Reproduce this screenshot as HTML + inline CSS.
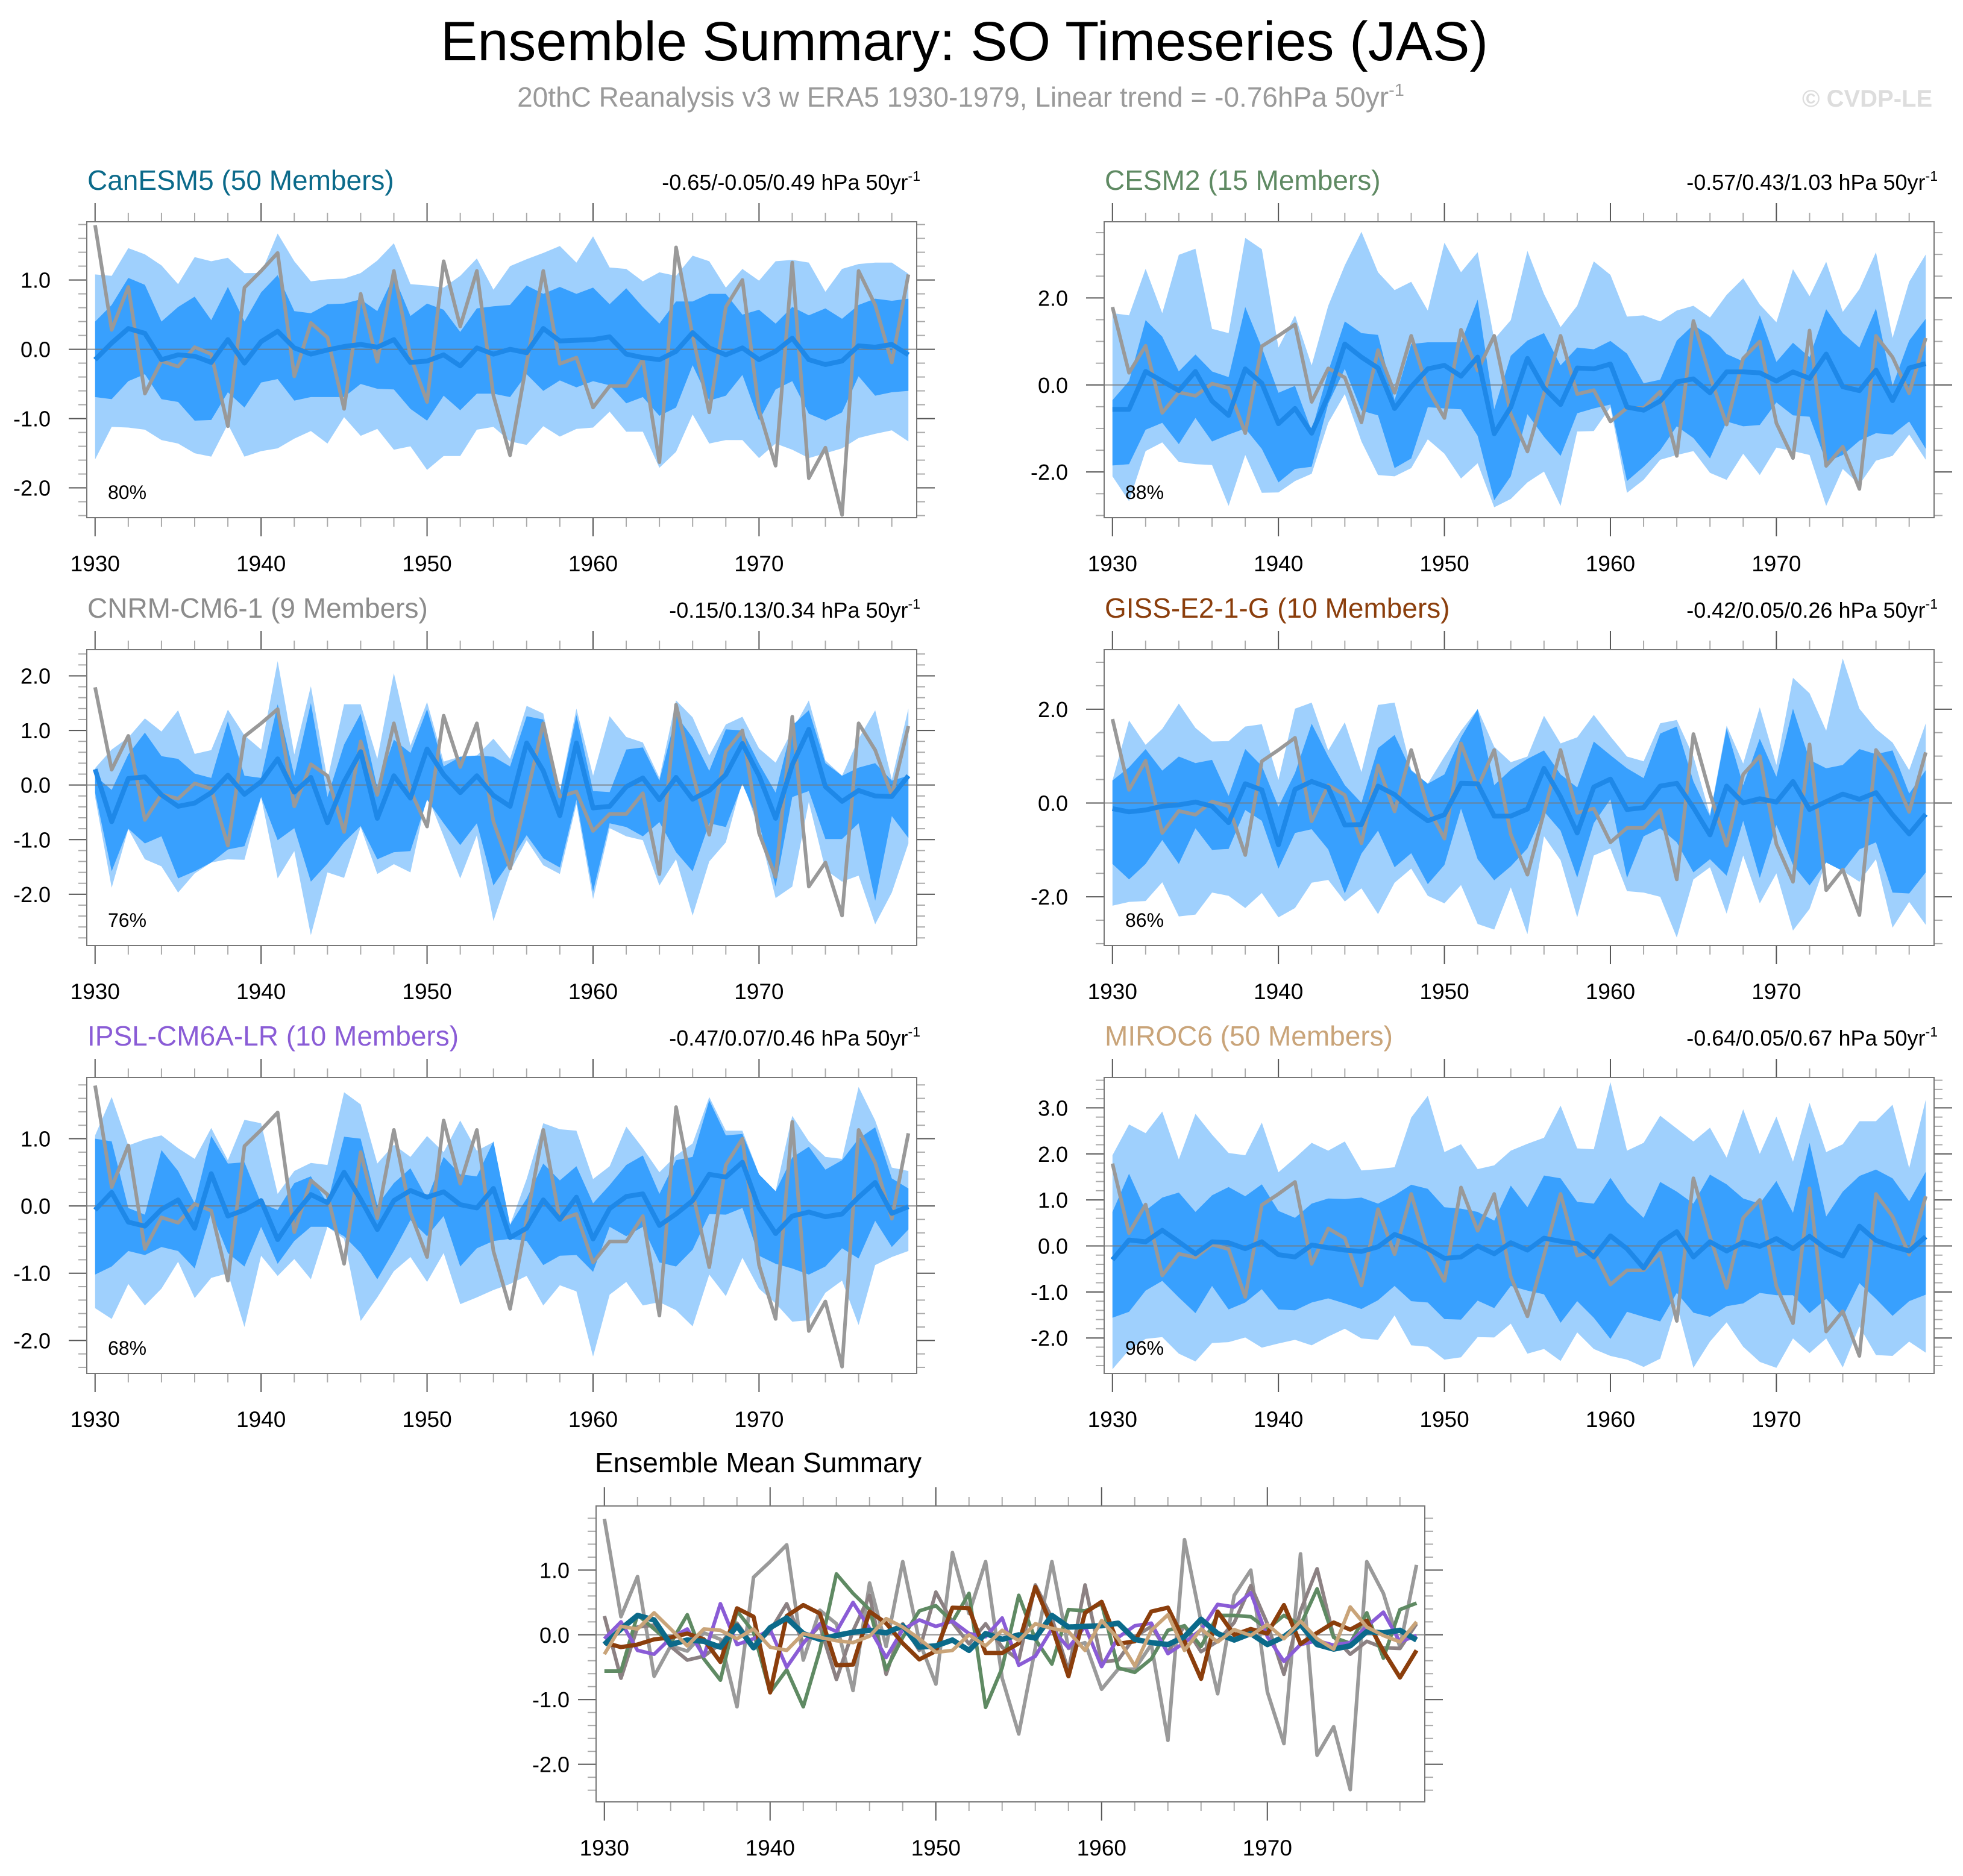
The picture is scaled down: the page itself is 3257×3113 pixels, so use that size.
<!DOCTYPE html>
<html><head><meta charset="utf-8"><title>Ensemble Summary: SO Timeseries (JAS)</title>
<style>html,body{margin:0;padding:0;background:#fff}svg{display:block;font-family:"Liberation Sans",sans-serif}</style>
</head><body>
<svg id="chart" xmlns="http://www.w3.org/2000/svg" width="3257" height="3113" viewBox="0 0 3257 3113">
<text x="1600" y="100" font-size="92" text-anchor="middle" fill="#000">Ensemble Summary: SO Timeseries (JAS)</text>
<text x="1594" y="177" font-size="46" text-anchor="middle" fill="#9a9a9a">20thC Reanalysis v3 w ERA5 1930-1979, Linear trend = -0.76hPa 50yr<tspan font-size="29" dy="-18">-1</tspan></text>
<text x="2990" y="177" font-size="40" font-weight="bold" fill="#dddddd">© CVDP-LE</text>
</svg>
<script>
const years = [1930,1931,1932,1933,1934,1935,1936,1937,1938,1939,1940,1941,1942,1943,1944,1945,1946,1947,1948,1949,1950,1951,1952,1953,1954,1955,1956,1957,1958,1959,1960,1961,1962,1963,1964,1965,1966,1967,1968,1969,1970,1971,1972,1973,1974,1975,1976,1977,1978,1979];
const obs = [1.79,0.28,0.90,-0.64,-0.17,-0.25,0.03,-0.07,-1.11,0.89,1.13,1.39,-0.39,0.38,0.17,-0.86,0.80,-0.18,1.13,-0.10,-0.76,1.27,0.33,1.13,-0.67,-1.53,-0.20,1.13,-0.21,-0.12,-0.84,-0.53,-0.53,-0.15,-1.63,1.47,0.20,-0.91,0.61,1.00,-0.88,-1.68,1.25,-1.86,-1.42,-2.39,1.13,0.64,-0.19,1.08];
const modelNames = ["CanESM5 (50 Members)","CESM2 (15 Members)","CNRM-CM6-1 (9 Members)","GISS-E2-1-G (10 Members)","IPSL-CM6A-LR (10 Members)","MIROC6 (50 Members)"];
const trendLabels = ["-0.65/-0.05/0.49 hPa 50yr","-0.57/0.43/1.03 hPa 50yr","-0.15/0.13/0.34 hPa 50yr","-0.42/0.05/0.26 hPa 50yr","-0.47/0.07/0.46 hPa 50yr","-0.64/0.05/0.67 hPa 50yr"];
const pctLabels = ["80%","88%","76%","86%","68%","96%"];
const yTickLabels = [["-2.0","-1.0","0.0","1.0"],["-2.0","0.0","2.0"],["-2.0","-1.0","0.0","1.0","2.0"],["-2.0","0.0","2.0"],["-2.0","-1.0","0.0","1.0"],["-2.0","-1.0","0.0","1.0","2.0","3.0"]];
const bottomYTickLabels = ["-2.0","-1.0","0.0","1.0"];
const xTickLabels = ["1930","1940","1950","1960","1970"];

const m1=[-0.15,0.09,0.30,0.23,-0.15,-0.08,-0.10,-0.19,0.14,-0.20,0.11,0.26,0.02,-0.07,-0.01,0.04,0.07,0.03,0.14,-0.19,-0.17,-0.08,-0.24,0.02,-0.07,0.00,-0.05,0.30,0.12,0.13,0.14,0.18,-0.07,-0.12,-0.15,-0.03,0.24,0.02,-0.08,0.02,-0.15,-0.03,0.16,-0.15,-0.22,-0.17,0.05,0.03,0.07,-0.08];
const ou1=[1.08,1.06,1.46,1.37,1.21,0.94,1.33,1.27,1.32,1.10,1.10,1.67,1.27,0.98,1.01,1.02,1.10,1.28,1.53,0.94,0.92,0.89,1.06,1.31,0.86,1.20,1.30,1.39,1.49,1.25,1.63,1.18,1.16,0.98,1.11,1.06,1.35,1.27,0.89,1.16,0.99,1.27,1.29,1.25,0.83,1.16,1.23,1.25,1.25,1.09];
const ol1=[-1.59,-1.12,-1.13,-1.16,-1.31,-1.36,-1.50,-1.55,-1.08,-1.55,-1.47,-1.43,-1.29,-1.18,-1.36,-0.98,-1.25,-1.15,-1.45,-1.40,-1.74,-1.54,-1.54,-1.16,-1.12,-1.33,-1.38,-1.11,-1.26,-1.15,-1.13,-0.90,-1.19,-1.19,-1.71,-1.48,-0.94,-1.36,-1.31,-1.31,-1.57,-1.36,-1.45,-1.57,-1.50,-1.43,-1.28,-1.22,-1.17,-1.33];
const iu1=[0.40,0.64,1.03,0.93,0.40,0.61,0.76,0.42,0.90,0.40,0.82,1.07,0.55,0.52,0.65,0.66,0.72,0.55,1.06,0.48,0.66,0.57,0.25,0.59,0.62,0.64,0.92,0.80,0.90,0.80,0.89,0.65,0.88,0.61,0.37,0.69,0.69,0.80,0.80,0.50,0.57,0.37,0.61,0.49,0.59,0.44,0.64,0.73,0.70,0.73];
const il1=[-0.69,-0.72,-0.46,-0.36,-0.72,-0.76,-1.03,-1.02,-0.62,-0.84,-0.48,-0.43,-0.74,-0.69,-0.69,-0.69,-0.50,-0.57,-0.58,-0.86,-1.03,-0.67,-0.88,-0.64,-0.64,-0.69,-0.36,-0.60,-0.45,-0.55,-0.46,-0.52,-0.78,-0.69,-0.96,-0.84,-0.23,-0.74,-0.67,-0.37,-1.03,-0.58,-0.46,-0.93,-1.03,-0.91,-0.39,-0.67,-0.62,-0.60];

const m2=[-0.56,-0.56,0.31,0.09,-0.13,0.31,-0.37,-0.70,0.37,0.04,-0.89,-0.54,-1.11,-0.24,0.94,0.64,0.39,-0.54,-0.04,0.37,0.45,0.20,0.64,-1.12,-0.51,0.61,-0.07,-0.45,0.39,0.37,0.48,-0.51,-0.58,-0.37,0.07,0.14,-0.18,0.30,0.30,0.28,0.09,0.30,0.15,0.71,-0.04,-0.13,0.34,-0.36,0.39,0.49];
const ou2=[1.65,1.60,2.67,1.65,2.99,3.13,1.29,1.19,3.38,3.12,0.86,1.60,0.45,1.82,2.75,3.52,2.59,2.18,2.37,1.71,3.27,2.59,3.05,1.05,1.49,3.08,2.09,1.33,1.82,2.84,2.53,1.57,1.60,1.46,1.71,1.82,1.55,2.07,2.45,1.85,1.44,2.66,2.04,2.83,1.68,2.20,3.05,1.08,2.37,3.00];
const ol2=[-2.10,-2.67,-1.52,-1.32,-1.77,-1.82,-1.84,-2.78,-1.61,-2.48,-2.47,-2.21,-2.04,-0.87,-0.21,-1.30,-2.07,-2.10,-1.91,-1.25,-1.58,-2.15,-1.80,-2.81,-2.62,-2.24,-1.99,-2.78,-1.07,-1.06,-0.51,-2.48,-2.18,-1.72,-1.61,-1.52,-2.02,-2.18,-1.58,-2.07,-1.44,-1.52,-1.61,-2.78,-1.93,-2.29,-1.74,-1.63,-1.14,-1.72];
const iu2=[-0.35,0.09,1.49,1.11,0.31,0.70,0.31,0.18,1.79,0.86,-0.18,-0.02,-1.06,0.31,1.46,1.19,1.15,-0.35,0.94,0.98,0.98,0.98,1.96,-0.56,0.67,1.02,1.19,0.45,0.86,0.82,1.01,0.72,0.04,0.12,1.02,1.38,1.13,0.71,0.54,1.60,0.53,0.97,0.64,1.74,1.19,0.86,1.76,-0.02,1.02,1.52];
const il2=[-1.85,-1.82,-1.03,-0.87,-1.36,-0.76,-1.30,-1.14,-1.00,-1.47,-2.24,-1.93,-1.88,-0.43,0.37,-0.59,-0.70,-1.91,-1.69,-0.51,-0.54,-0.56,-1.17,-2.65,-2.10,-0.67,-1.19,-1.63,-0.65,-0.54,-0.45,-2.21,-1.88,-1.50,-0.95,-1.22,-1.69,-0.84,-0.95,-0.92,-0.40,-0.70,-0.73,-1.77,-1.61,-1.28,-1.11,-1.14,-0.84,-1.47];

const m3=[0.29,-0.67,0.12,0.15,-0.18,-0.39,-0.33,-0.14,0.18,-0.17,0.06,0.48,-0.13,0.14,-0.69,0.06,0.61,-0.61,0.17,-0.24,0.66,0.19,-0.14,0.17,-0.19,-0.39,0.77,0.26,-0.56,0.77,-0.42,-0.39,-0.03,0.13,-0.27,0.14,-0.26,-0.10,0.19,0.76,0.17,-0.61,0.37,1.02,-0.03,-0.30,-0.10,-0.20,-0.21,0.17];
const ou3=[0.31,0.65,0.87,1.22,0.98,1.37,0.57,0.64,1.38,0.91,0.65,2.27,0.56,1.81,0.10,1.48,1.48,0.48,2.05,0.72,1.52,0.43,0.52,0.54,0.85,0.48,1.45,1.31,-0.11,1.40,0.17,1.26,0.88,0.78,0.13,1.55,1.24,0.54,1.11,1.25,0.67,0.41,1.00,1.55,0.45,0.17,0.85,1.37,0.10,1.40];
const ol3=[-0.22,-1.88,-0.81,-1.36,-1.49,-1.97,-1.62,-1.42,-1.36,-1.37,-0.22,-1.71,-1.21,-2.75,-1.60,-1.70,-0.77,-1.63,-1.45,-1.60,-0.18,-0.94,-1.71,-0.92,-2.49,-1.58,-1.01,-1.47,-1.63,-0.35,-2.09,-0.79,-0.94,-1.01,-1.84,-1.36,-2.39,-1.40,-1.05,0.08,-0.83,-2.07,-1.86,-0.31,-1.55,-1.77,-1.66,-2.55,-1.97,-1.07];
const iu3=[0.17,-0.09,0.56,0.96,0.53,0.48,0.21,0.13,1.17,0.17,0.13,1.48,0.17,1.50,-0.22,0.74,1.31,-0.05,0.83,0.59,1.39,0.34,0.52,0.54,0.52,0.34,1.26,1.20,-0.14,1.28,-0.11,-0.13,0.65,0.69,0.08,1.28,0.87,0.26,1.02,1.00,0.39,-0.14,1.09,1.37,0.40,0.17,0.32,0.40,0.08,0.17];
const il3=[-0.14,-1.58,-0.80,-1.07,-0.94,-1.71,-1.58,-1.42,-1.18,-1.12,-0.22,-1.01,-0.79,-1.77,-1.44,-1.05,-0.75,-1.36,-1.23,-1.21,-0.27,-0.70,-1.10,-0.70,-1.84,-1.40,-0.92,-1.34,-1.51,-0.27,-1.95,-0.70,-0.77,-0.94,-0.68,-1.23,-1.58,-0.70,-0.77,0.02,-0.70,-1.86,-0.22,-0.11,-0.99,-0.99,-0.70,-2.12,-0.57,-0.97];

const m4=[-0.12,-0.19,-0.15,-0.07,-0.04,0.02,-0.07,-0.42,0.41,0.28,-0.89,0.29,0.46,0.33,-0.47,-0.46,0.36,0.18,-0.13,-0.38,-0.25,0.42,0.41,-0.28,-0.28,-0.13,0.74,0.13,-0.64,0.34,0.51,-0.14,-0.10,0.36,0.42,-0.10,-0.68,0.36,0.00,0.09,0.02,0.46,-0.14,0.03,0.19,0.08,0.22,-0.25,-0.66,-0.24];
const ou4=[0.48,1.76,1.24,1.58,2.12,1.60,1.31,1.32,1.63,1.68,0.49,2.01,2.14,1.12,1.72,0.66,2.09,2.14,0.71,0.41,0.99,1.54,2.00,1.20,0.87,0.99,1.86,1.27,1.40,1.88,1.42,0.99,0.89,1.70,1.77,0.99,-0.25,1.65,0.84,2.04,0.81,2.67,2.34,1.54,3.08,2.01,1.58,1.29,0.70,1.70];
const ol4=[-2.19,-2.11,-2.09,-1.69,-2.42,-2.38,-1.91,-1.98,-2.24,-1.92,-2.44,-2.24,-1.70,-1.64,-2.10,-1.82,-2.37,-1.70,-1.40,-1.98,-2.14,-1.75,-2.58,-2.70,-1.80,-2.80,-0.71,-1.22,-2.44,-1.12,-0.97,-1.88,-1.91,-2.00,-2.87,-1.63,-1.37,-2.36,-1.12,-2.14,-1.50,-2.72,-2.26,-1.25,-1.45,-1.68,-1.20,-2.66,-2.11,-2.60];
const iu4=[0.48,0.76,1.15,0.69,0.99,0.85,0.92,0.15,1.15,0.79,-0.08,0.64,1.69,0.99,0.38,0.00,1.17,1.45,0.69,0.41,0.61,1.40,2.00,0.38,0.71,0.94,1.12,0.61,0.33,1.31,1.02,0.74,0.53,1.48,1.63,0.46,-0.28,1.59,0.38,1.37,0.56,2.01,0.92,0.74,0.81,1.15,1.04,1.12,0.20,0.70];
const il4=[-1.30,-1.63,-1.30,-0.79,-1.30,-0.54,-1.00,-0.98,-0.15,-0.38,-1.40,-0.64,-0.56,-0.99,-1.93,-1.08,-0.59,-1.37,-1.07,-1.73,-1.32,-0.12,-1.20,-1.65,-1.35,-0.97,-0.18,-0.59,-1.59,-0.43,0.08,-1.60,-0.71,-0.54,-0.84,-1.48,-1.20,-1.55,-0.38,-1.60,-0.47,-1.32,-1.76,-1.27,-1.45,-0.99,-0.84,-1.91,-1.93,-1.48];

const m5=[-0.06,0.20,-0.24,-0.30,-0.05,0.09,-0.33,0.48,-0.15,-0.06,0.08,-0.50,-0.13,0.17,0.05,0.50,0.10,-0.35,0.08,0.23,0.13,0.21,0.02,-0.03,0.26,-0.47,-0.33,0.09,-0.20,0.13,-0.49,-0.04,0.14,0.18,-0.29,-0.12,0.08,0.47,0.43,0.65,-0.03,-0.41,-0.15,-0.09,-0.16,-0.12,0.13,0.35,-0.11,-0.01];
const ou5=[1.05,1.62,0.90,0.99,1.05,0.86,0.70,1.16,0.68,1.28,1.23,0.18,0.52,0.64,0.61,1.69,1.51,0.63,0.91,0.73,1.04,0.80,1.27,0.82,0.95,-0.28,0.40,1.23,1.14,1.12,0.40,0.59,1.18,0.86,0.50,0.75,0.93,1.62,1.12,1.12,0.47,0.22,1.34,0.96,0.73,0.70,1.77,1.27,0.57,0.52];
const ol5=[-1.52,-1.68,-1.16,-1.48,-1.23,-0.83,-1.37,-1.07,-1.00,-1.80,-0.74,-1.04,-0.79,-1.09,-0.31,-0.49,-1.71,-1.36,-0.97,-0.76,-1.13,-0.70,-1.46,-1.36,-1.25,-1.16,-1.04,-1.48,-1.18,-1.27,-2.24,-1.32,-1.13,-1.48,-1.43,-1.55,-1.79,-1.02,-1.34,-0.77,-1.23,-1.45,-1.72,-1.70,-1.29,-1.11,-1.77,-0.88,-0.76,-0.67];
const iu5=[1.00,0.96,-0.03,-0.13,0.83,0.52,0.04,1.04,0.63,0.65,0.04,-0.06,0.34,0.44,0.04,1.03,1.00,0.01,0.34,0.56,0.11,0.73,0.47,0.44,0.96,-0.28,0.11,0.63,0.38,0.59,0.04,0.31,0.61,0.75,0.18,0.68,0.73,1.57,1.05,1.07,0.47,0.22,0.72,0.88,0.54,0.68,1.00,1.17,0.41,0.26];
const il5=[-1.02,-0.90,-0.67,-0.73,-0.61,-0.67,-0.93,-0.10,-0.70,-0.90,-0.31,-0.86,-0.52,-0.31,-0.31,-0.45,-0.70,-1.09,-0.67,-0.21,-0.45,-0.15,-0.90,-0.63,-0.52,-0.49,-0.52,-0.88,-0.74,-0.73,-0.98,-0.31,-0.45,-0.31,-0.84,-0.90,-0.65,-0.12,-0.13,-0.03,-0.74,-0.86,-0.93,-1.02,-0.90,-0.63,-0.78,-0.22,-0.61,-0.35];

const m6=[-0.30,0.13,0.09,0.34,0.09,-0.17,0.09,0.07,-0.06,0.09,-0.19,-0.24,0.02,-0.04,-0.09,-0.12,-0.02,0.25,0.12,-0.06,-0.27,-0.24,0.00,-0.17,0.07,-0.09,0.17,0.10,0.05,-0.24,0.22,-0.06,-0.48,0.07,0.31,-0.24,0.09,-0.11,0.08,-0.01,0.16,-0.06,0.21,-0.06,-0.22,0.43,0.12,-0.01,-0.11,0.20];
const ou6=[1.97,2.64,2.45,2.92,1.88,2.87,2.42,2.02,1.97,2.68,1.60,1.91,2.24,2.07,2.27,1.64,1.67,1.71,2.79,3.26,2.04,2.21,1.67,1.75,2.07,2.22,2.35,3.05,2.12,2.10,3.56,2.07,2.24,2.83,2.55,2.27,2.57,1.92,2.97,2.00,2.81,1.83,3.11,2.04,2.21,2.71,2.71,3.07,1.69,3.18];
const ol6=[-2.68,-2.26,-2.02,-1.98,-2.34,-2.51,-2.11,-2.09,-1.99,-2.21,-2.12,-2.04,-2.16,-1.97,-1.80,-2.01,-2.04,-1.51,-2.16,-2.19,-2.47,-2.42,-1.98,-1.99,-1.69,-2.34,-2.24,-2.50,-1.88,-2.24,-2.39,-2.47,-2.63,-2.45,-1.28,-2.65,-2.08,-1.66,-2.19,-2.52,-2.65,-2.01,-2.33,-2.01,-2.64,-1.75,-2.37,-2.39,-2.08,-2.32];
const iu6=[0.74,1.57,0.77,1.05,1.16,0.74,1.10,1.28,1.08,1.34,0.76,0.61,0.92,1.03,1.02,1.05,0.92,1.10,1.33,1.24,0.84,0.81,0.74,0.55,1.31,0.84,1.53,1.47,0.96,0.92,1.48,0.95,0.61,1.39,1.18,0.92,1.55,1.34,1.03,0.92,1.41,0.72,2.24,0.64,1.18,1.52,1.66,1.47,0.97,1.61];
const il6=[-1.56,-1.43,-0.97,-0.76,-1.12,-1.46,-0.87,-1.38,-1.23,-0.94,-1.38,-1.40,-1.23,-1.14,-1.25,-1.37,-1.18,-0.87,-1.20,-1.23,-1.59,-1.60,-1.19,-1.35,-0.87,-0.97,-1.05,-1.67,-1.20,-1.56,-2.02,-1.43,-1.54,-1.64,-1.02,-1.45,-1.54,-1.31,-1.25,-1.02,-1.07,-1.07,-1.46,-1.15,-1.54,-0.81,-1.15,-1.52,-1.20,-1.06];

const means=[m1,m2,m3,m4,m5,m6];
const outerUp=[ou1,ou2,ou3,ou4,ou5,ou6];
const outerLo=[ol1,ol2,ol3,ol4,ol5,ol6];
const innerUp=[iu1,iu2,iu3,iu4,iu5,iu6];
const innerLo=[il1,il2,il3,il4,il5,il6];

const NS="http://www.w3.org/2000/svg";
const svg=document.getElementById('chart');
const titleColors=["#0b6a8a","#5f8a63","#8c8c8c","#8b3e0c","#8a5cd6","#c9a479"];
const bottomColors=["#0b6a8a","#5f8a63","#8c8183","#8b3e0c","#8a5cd6","#c9a479"];
const yRanges=[[-2.43,1.84],[-3.05,3.75],[-2.94,2.48],[-3.04,3.27],[-2.49,1.91],[-2.77,3.66]];
const yMinor=[0.2,0.5,0.2,0.5,0.2,0.2];
const yMajor=[1,2,1,2,1,1];
const slugs=["canesm5","cesm2","cnrm-cm6-1","giss-e2-1-g","ipsl-cm6a-lr","miroc6"];

function mk(tag,attrs,parent){const e=document.createElementNS(NS,tag);for(const k in attrs)e.setAttribute(k,attrs[k]);(parent||svg).appendChild(e);return e;}

function drawAxes(g,L,T,W,H,ymin,ymax,major,minor,labels,labelGap,slug){
  const xs=v=>L+(v-1929.5)/50*W;
  const ys=v=>T+(ymax-v)/(ymax-ymin)*H;
  for(let yr=1930;yr<=1979;yr+=2){
    const isMaj=(yr%10===0);const len=isMaj?31:15;
    const t1=mk('line',{x1:xs(yr),x2:xs(yr),y1:T+H,y2:T+H+len,stroke:isMaj?'#555':'#aaa','stroke-width':2},g);
    
    
    const t2=mk('line',{x1:xs(yr),x2:xs(yr),y1:T,y2:T-len,stroke:isMaj?'#555':'#aaa','stroke-width':2},g);
    
    
  }
  xTickLabels.forEach(s=>{
    const tx=mk('text',{x:xs(+s),y:T+H+89,'font-size':37,'text-anchor':'middle',fill:'#000'},g);
    
    
    tx.textContent=s;
  });
  const start=Math.ceil(ymin/minor-1e-6)*minor;
  for(let v=start;v<=ymax+1e-6;v+=minor){
    const vr=Math.round(v*100)/100;
    const isMaj=Math.abs(vr/major-Math.round(vr/major))<1e-6;
    const len=isMaj?30:14;
    const a=mk('line',{x1:L-len,x2:L,y1:ys(vr),y2:ys(vr),stroke:isMaj?'#555':'#aaa','stroke-width':2},g);
    
    
    const b=mk('line',{x1:L+W,x2:L+W+len,y1:ys(vr),y2:ys(vr),stroke:isMaj?'#555':'#aaa','stroke-width':2},g);
    
    
  }
  labels.forEach(s=>{
    const ty=mk('text',{x:L-labelGap,y:ys(+s)+13,'font-size':36,'text-anchor':'end',fill:'#000'},g);
    
    
    ty.textContent=s;
  });
  return {xs,ys};
}

function linePath(arr,xs,ys){return arr.map((v,i)=>(i?'L':'M')+xs(years[i]).toFixed(1)+','+ys(v).toFixed(1)).join('');}
function bandPath(up,lo,xs,ys){let d=up.map((v,i)=>(i?'L':'M')+xs(years[i]).toFixed(1)+','+ys(v).toFixed(1)).join('');for(let i=lo.length-1;i>=0;i--)d+='L'+xs(years[i]).toFixed(1)+','+ys(lo[i]).toFixed(1);return d+'Z';}

const colX=[144,1832], rowY=[368,1078,1788], PW=1377, PH=491;
for(let p=0;p<6;p++){
  const L=colX[p%2],T=rowY[Math.floor(p/2)];
  const g=mk('g',{});
  
  
  const [ymin,ymax]=yRanges[p];
  const ttl=mk('text',{x:L+1,y:T-53,'font-size':46,fill:titleColors[p]},g);
  
  
  ttl.textContent=modelNames[p];
  const tr=mk('text',{x:L+PW+6,y:T-53,'font-size':36,'text-anchor':'end',fill:'#000'},g);
  
  
  tr.textContent=trendLabels[p];
  const sup=mk('tspan',{'font-size':23,dy:-15},tr);
  sup.textContent='-1';
  const ax=drawAxes(g,L,T,PW,PH,ymin,ymax,yMajor[p],yMinor[p],yTickLabels[p],60,slugs[p]);
  const ob=mk('path',{d:bandPath(outerUp[p],outerLo[p],ax.xs,ax.ys),fill:'#9fd0fd'},g);
  
  
  const ib=mk('path',{d:bandPath(innerUp[p],innerLo[p],ax.xs,ax.ys),fill:'#38a0fe'},g);
  
  
  const zl=mk('line',{x1:L,x2:L+PW,y1:ax.ys(0),y2:ax.ys(0),stroke:'#777','stroke-width':2,'stroke-opacity':0.8},g);
  
  
  const ol=mk('path',{d:linePath(obs,ax.xs,ax.ys),fill:'none',stroke:'#999','stroke-width':6,'stroke-linejoin':'round'},g);
  
  
  const ml=mk('path',{d:linePath(means[p],ax.xs,ax.ys),fill:'none',stroke:'#1e88e8','stroke-width':8,'stroke-linejoin':'round'},g);
  
  
  const bx=mk('rect',{x:L,y:T,width:PW,height:PH,fill:'none',stroke:'#777','stroke-width':2},g);
  
  
  const pc=mk('text',{x:L+35,y:T+PH-31,'font-size':32,fill:'#000'},g);
  
  
  pc.textContent=pctLabels[p];
}

{
  const L=989,T=2499,W=1375,H=491,ymin=-2.58,ymax=1.99;
  const g=mk('g',{});
  
  
  const ttl=mk('text',{x:987,y:2443,'font-size':46,fill:'#000'},g);
  
  
  ttl.textContent='Ensemble Mean Summary';
  const ax=drawAxes(g,L,T,W,H,ymin,ymax,1,0.2,bottomYTickLabels,44,'summary');
  const zl=mk('line',{x1:L,x2:L+W,y1:ax.ys(0),y2:ax.ys(0),stroke:'#777','stroke-width':2,'stroke-opacity':0.8},g);
  
  
  const ol=mk('path',{d:linePath(obs,ax.xs,ax.ys),fill:'none',stroke:'#9a9a9a','stroke-width':6,'stroke-linejoin':'round'},g);
  
  
  const order=[2,1,4,3,0,5];
  order.forEach(p=>{
    const ln=mk('path',{d:linePath(means[p],ax.xs,ax.ys),fill:'none',stroke:bottomColors[p],'stroke-width':p===0?9:p===3?7:6,'stroke-linejoin':'round'},g);
    
    
  });
  const bx=mk('rect',{x:L,y:T,width:W,height:H,fill:'none',stroke:'#777','stroke-width':2},g);
  
  
}
</script>
</body></html>
